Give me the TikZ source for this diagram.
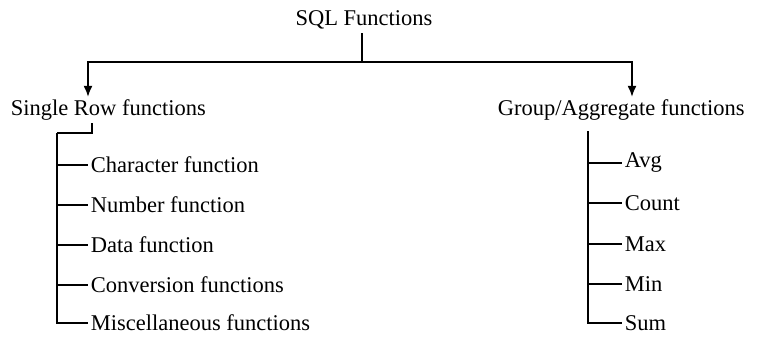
\documentclass[tikz,border=0pt]{standalone}
\usepackage{fontspec}
\setmainfont{Liberation Serif}
\usepackage{tikz}
\usetikzlibrary{arrows.meta}

\tikzset{
  item/.style={right, inner sep=2pt},
  tip/.style={-{Latex[length=11pt,width=9pt]}}
}

\begin{document}
\begin{tikzpicture}[x=1pt,y=-1pt,line width=1.6pt,font=\fontsize{22.5}{27}\selectfont]
        \useasboundingbox (0,0) rectangle (766,337);
        \node (sql) at (364,20) {SQL Functions};
        \node[right, inner sep=2pt] (single) at (8,110) {Single Row functions};
        \node[right, inner sep=2pt] (group) at (495,110) {Group/Aggregate functions};
        \coordinate (mid) at (362,62);
        \coordinate (midL) at (88,62);
        \coordinate (midR) at (632,62);
        \draw (sql.south -| mid) -- (mid);
        \draw[tip] (mid) -- (midL) -- (single.north -| midL);
        \draw[tip] (mid) -- (midR) -- (group.north -| midR);
        \coordinate (la) at (92,133);
        \coordinate (lb) at (57,133);
        \coordinate (rb) at (588,131);
        \draw (single.south -| la) -- (la) -- (lb);
        \foreach \y/\t [count=\i] in {165/Character function, 205/Number function,
            245/Data function, 285/Conversion functions, 323/Miscellaneous functions}{
          \node[item] (c\i) at (88,\y) {\t};
          \draw (lb) |- (c\i.west);
        }
        \foreach \y/\t [count=\i] in {163/Avg, 203/Count, 244/Max, 284/Min, 323/Sum}{
          \node[item] (g\i) at (622,\y) {\t};
          \draw (rb) |- (g\i.west);
        }
    \end{tikzpicture}
\end{document}
